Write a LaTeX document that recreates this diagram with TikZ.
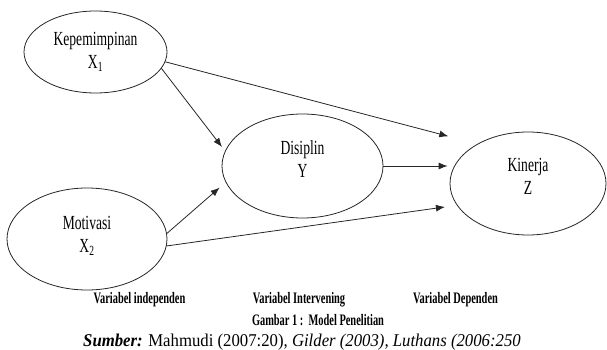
\documentclass[tikz,border=0pt]{standalone}
\usepackage{fontspec}
\setmainfont{Liberation Serif}
\newfontfamily\nodefont[FakeStretch=0.68]{Liberation Serif}
\newfontfamily\labfont[FakeStretch=0.65]{Liberation Serif}
\newfontfamily\srcfont[FakeStretch=0.93]{Liberation Serif}
\usetikzlibrary{shapes.geometric,arrows.meta}
\newcommand{\liftby}[1]{\rule[-#1]{0pt}{#1}}
\begin{document}
\begin{tikzpicture}[x=1pt,y=-1pt,
  var/.style={draw=black!85, line width=0.8pt, ellipse, inner sep=0pt, align=center,
    font=\nodefont\fontsize{20}{23}\selectfont},
  arr/.style={draw=black!85, line width=0.8pt, -{Latex[length=9pt,width=7pt]}},
  lab/.style={anchor=base, inner sep=0pt, font=\labfont\bfseries\fontsize{16}{18}\selectfont}]
\useasboundingbox (0,0) rectangle (607,350);
\node[var, minimum width=143pt, minimum height=82pt] (e1) at (95.5,52) {Kepemimpinan\\X\textsubscript{1}};
\node[var, minimum width=160pt, minimum height=102pt] (e2) at (87,239) {Motivasi\\X\textsubscript{2}\liftby{10pt}};
\node[var, minimum width=161pt, minimum height=104pt] (e3) at (302.5,166) {Disiplin\\Y\liftby{14pt}};
\node[var, minimum width=156pt, minimum height=103pt] (e4) at (528,183.5) {Kinerja\\Z\liftby{15pt}};
\draw[arr, shorten >=30pt] (e1.-8) -- (e4.142.6);
\draw[arr, shorten >=5pt] (e1.-14) -- (e3.169.7);
\draw[arr, shorten >=2pt] (e3.east) -- (e4.west |- e3.east);
\draw[arr, shorten >=8pt] (e2.4.3) -- (e3.192.4);
\draw[arr, shorten >=12pt] (e2.-5.7) -- (e4.197.1);
\node[lab] (l1) at (139.5,303.5) {Variabel independen};
\node[lab] (l2) at (299,303.5) {Variabel Intervening};
\node[lab] (l3) at (455.5,303.5) {Variabel Dependen};
\node[lab] (cap) at (318,325) {Gambar 1 :\ \ Model Penelitian};
\node[anchor=base, inner sep=0pt, font=\srcfont\fontsize{18}{20}\selectfont] (src) at (302,346)
  {\textbf{\textit{Sumber:}} Mahmudi (2007:20), \textit{Gilder (2003), Luthans (2006:250}};
\end{tikzpicture}
\end{document}
